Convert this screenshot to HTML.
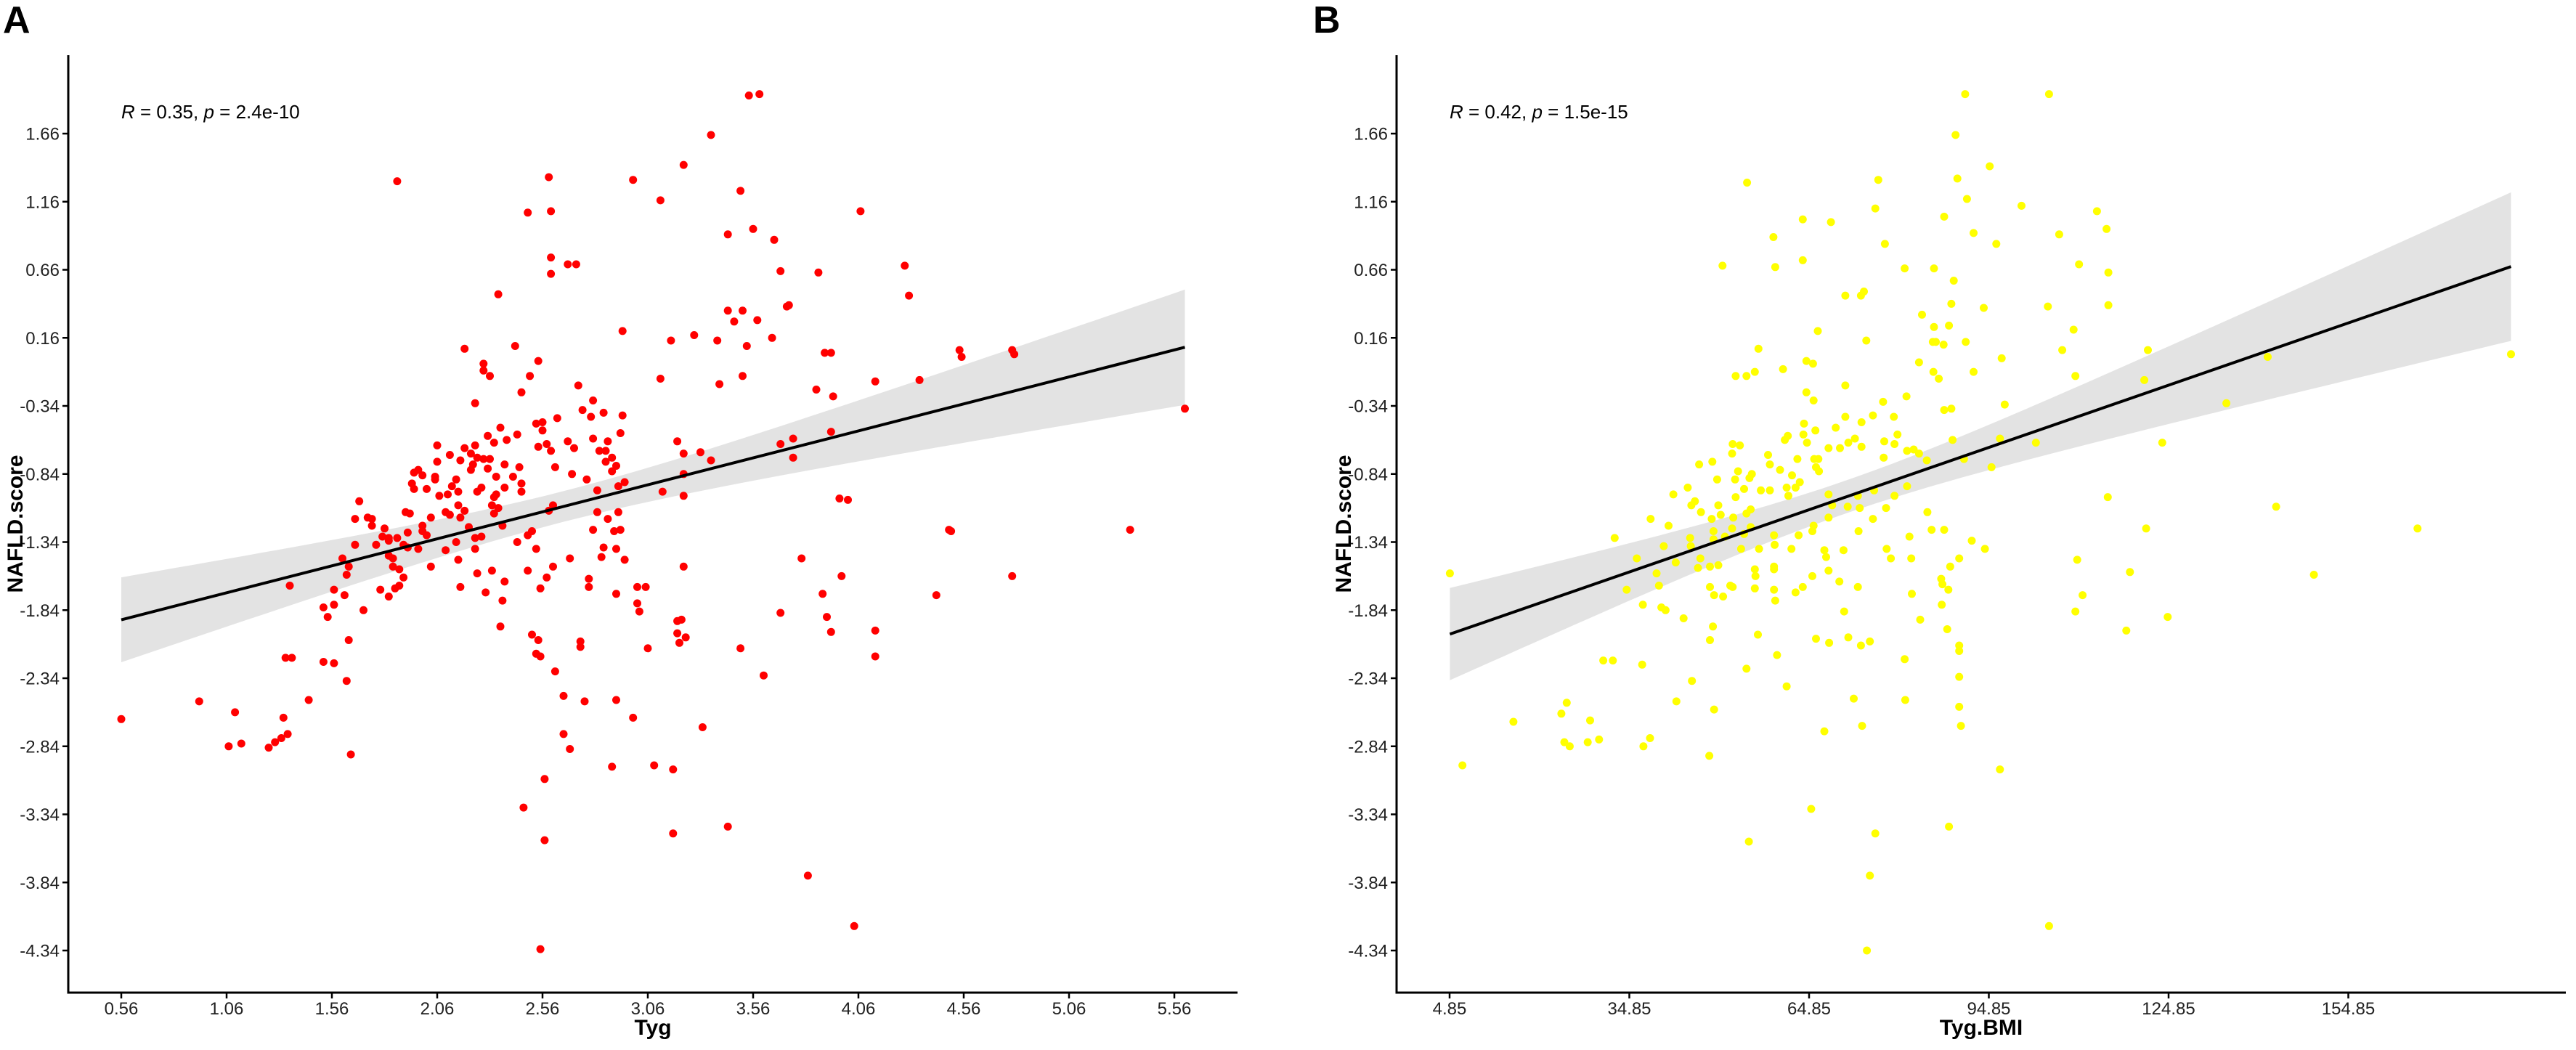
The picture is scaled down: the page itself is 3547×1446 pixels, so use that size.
<!DOCTYPE html>
<html><head><meta charset="utf-8"><style>
html,body{margin:0;padding:0;background:#fff;}
svg{display:block;font-family:"Liberation Sans",Arial,sans-serif;}
</style></head><body>
<svg id="chart" width="3547" height="1446" viewBox="0 0 3547 1446" xmlns="http://www.w3.org/2000/svg">
<rect width="3547" height="1446" fill="#fff"/>
<text x="4" y="45" font-size="52" font-weight="bold">A</text>
<text x="1808" y="45" font-size="52" font-weight="bold">B</text>
<g id="panelA"></g>
<g id="panelB"></g>
</svg>
<script>
// ---- Panel A data (Tyg vs NAFLD.score) ----
const aX = [2.19,2.43,2.28,2.28,2.31,2.54,2.50,2.46,2.24,2.73,2.80,2.75,2.79,2.85,2.94,2.93,3.17,3.12,2.94,2.36,2.30,2.33,2.39,2.44,2.53,2.56,2.56,2.63,2.54,2.58,2.60,2.68,2.71,2.80,2.87,2.83,2.86,2.86,2.89,2.91,2.89,2.62,2.70,2.77,2.82,2.92,2.95,3.20,3.23,3.23,3.13,3.23,2.06,2.06,2.12,2.19,2.24,2.22,2.17,2.25,2.28,2.31,2.23,2.22,2.30,2.38,2.45,2.34,2.42,2.46,2.46,2.38,1.95,1.97,1.99,2.05,2.05,2.15,2.13,2.16,2.01,1.94,1.95,2.11,2.07,2.25,2.27,2.33,2.34,2.32,2.35,2.33,2.16,2.19,2.17,2.10,2.12,2.21,2.37,2.61,2.59,1.69,1.67,1.73,1.75,1.75,1.81,1.80,1.83,1.83,1.87,1.91,1.93,1.92,2.03,1.99,1.99,2.01,1.90,1.92,1.97,1.77,1.67,1.83,1.85,1.85,1.88,1.90,2.03,2.10,2.15,2.16,2.24,2.24,2.27,2.44,2.49,2.51,2.53,2.69,2.80,2.82,2.87,2.92,2.90,2.93,2.85,2.91,2.84,2.95,3.23,1.61,1.64,1.63,1.36,1.57,1.62,1.52,1.57,1.54,1.71,1.79,1.83,1.86,1.88,2.17,2.25,2.32,2.38,2.29,2.37,2.49,2.58,2.61,2.55,2.78,2.78,2.91,3.01,3.05,3.01,3.02,2.36,2.51,2.54,2.74,2.74,1.64,3.22,3.24,3.21,
0.56,0.93,1.07,1.10,1.13,1.26,1.29,1.32,1.35,1.33,1.34,1.37,1.45,1.57,1.63,1.65,1.52,
1.87,2.59,2.60,2.49,2.60,2.60,2.68,2.72,2.35,2.99,3.12,3.23,3.36,3.50,3.54,3.59,3.56,3.44,3.66,3.69,3.87,3.73,4.07,4.28,4.30,3.44,3.51,3.47,3.58,3.72,3.39,3.93,3.90,4.55,4.79,4.14,4.35,5.61,3.86,3.53,3.65,3.40,3.51,3.28,3.69,3.75,3.75,3.31,3.36,3.94,3.93,3.97,4.01,3.79,3.98,3.89,4.49,4.43,5.35,4.79,4.50,4.54,4.80,
3.69,3.91,3.93,4.14,4.14,3.50,3.61,3.20,3.20,3.32,3.44,3.18,3.09,3.18,3.82,4.04,
2.47,2.57,2.55,2.57,2.66,2.69,2.66,2.76,2.91,2.99,3.06,2.89,2.55,2.53,2.62];
const aY = [0.08,0.10,-0.03,-0.08,-0.12,-0.01,-0.12,-0.24,-0.32,-0.19,-0.30,-0.37,-0.42,-0.39,-0.41,-0.54,0.14,-0.14,0.21,-0.50,-0.56,-0.61,-0.59,-0.55,-0.47,-0.46,-0.52,-0.43,-0.64,-0.62,-0.67,-0.60,-0.65,-0.58,-0.60,-0.67,-0.67,-0.75,-0.72,-0.78,-0.82,-0.79,-0.84,-0.88,-0.96,-0.93,-0.90,-0.60,-0.69,-0.84,-0.97,-1.00,-0.63,-0.75,-0.70,-0.65,-0.63,-0.69,-0.74,-0.72,-0.73,-0.73,-0.77,-0.81,-0.80,-0.77,-0.79,-0.86,-0.86,-0.91,-0.97,-0.94,-0.83,-0.81,-0.85,-0.86,-0.88,-0.88,-0.93,-0.97,-0.95,-0.91,-0.95,-0.99,-1.00,-0.97,-0.94,-1.01,-0.99,-1.07,-1.09,-1.13,-1.07,-1.11,-1.16,-1.12,-1.14,-1.23,-1.22,-1.07,-1.11,-1.04,-1.17,-1.16,-1.17,-1.22,-1.24,-1.30,-1.31,-1.33,-1.31,-1.12,-1.13,-1.27,-1.16,-1.22,-1.26,-1.29,-1.36,-1.38,-1.39,-1.36,-1.36,-1.44,-1.46,-1.52,-1.54,-1.60,-1.52,-1.40,-1.34,-1.47,-1.39,-1.31,-1.30,-1.34,-1.29,-1.26,-1.39,-1.46,-1.25,-1.12,-1.17,-1.12,-1.26,-1.25,-1.38,-1.39,-1.45,-1.47,-1.52,-1.46,-1.52,-1.58,-1.66,-1.69,-1.73,-1.82,-1.80,-1.89,-1.84,-1.69,-1.74,-1.68,-1.66,-1.67,-1.57,-1.55,-1.63,-1.71,-1.77,-1.55,-1.60,-1.52,-1.68,-1.61,-1.67,-1.72,-1.67,-1.67,-1.79,-1.85,-1.96,-2.02,-2.06,-2.07,-2.11,-2.06,-1.91,-2.04,-2.08,
-2.64,-2.51,-2.84,-2.59,-2.82,-2.85,-2.81,-2.78,-2.75,-2.63,-2.19,-2.19,-2.50,-2.23,-2.36,-2.90,-2.22,
1.31,1.34,1.09,1.08,0.75,0.63,0.70,0.70,0.48,1.32,1.17,1.43,1.65,1.24,1.94,1.95,0.96,0.92,0.88,0.65,0.64,0.40,1.09,0.69,0.47,0.36,0.36,0.28,0.29,0.39,0.14,0.05,0.05,0.02,0.07,-0.16,-0.15,-0.36,-0.22,0.10,0.16,-0.18,-0.12,0.18,-0.62,-0.72,-0.58,-0.68,-0.74,-0.27,-0.53,-1.02,-1.03,-1.46,-1.59,-1.72,-1.25,-1.73,-1.25,-1.59,-1.26,0.07,0.04,
-1.86,-1.89,-2.00,-1.99,-2.18,-2.12,-2.32,-1.92,-2.01,-2.70,-3.43,-3.48,-2.98,-3.01,-3.79,-4.16,
-3.29,-3.53,-4.33,-3.08,-2.75,-2.86,-2.47,-2.51,-2.50,-2.63,-2.12,-2.99,-2.18,-2.16,-2.29];
const aXTicks = [0.56,1.06,1.56,2.06,2.56,3.06,3.56,4.06,4.56,5.06,5.56];
const yTicks = [1.66,1.16,0.66,0.16,-0.34,-0.84,-1.34,-1.84,-2.34,-2.84,-3.34,-3.84,-4.34];
const aStat = "0.35"; const aP = "2.4e-10";

// ---- Panel B data (Tyg.BMI vs NAFLD.score) ----
const bX = [4.9,32.4,36.1,38.4,41.4,42.2,44.6,46.5,48.7,49.5,45.2,45.8,46.8,49.7,48.6,50.1,52.0,40.6,45.0,45.1,48.9,48.9,50.8,52.2,52.6,52.5,53.0,54.0,54.9,55.1,54.4,54.0,55.1,53.5,52.0,52.1,53.3,52.6,54.4,55.8,56.4,60.5,64.4,65.5,66.3,64.4,65.6,64.0,63.9,64.5,65.9,60.8,61.3,58.0,58.3,60.0,62.0,62.9,63.3,62.6,61.1,61.4,65.7,66.4,66.0,66.5,68.1,69.3,70.9,70.9,70.0,71.4,72.5,73.6,73.6,75.5,73.5,74.4,77.2,79.0,77.4,77.3,79.1,79.6,81.1,81.2,82.3,83.2,84.5,83.2,83.7,85.7,86.0,87.3,85.6,86.5,87.4,88.6,88.8,56.8,58.3,55.3,68.1,68.7,71.3,73.0,73.3,75.7,77.7,79.1,81.2,84.6,85.3,87.4,56.5,59.0,59.1,61.9,63.1,65.4,65.6,68.1,73.1,75.5,77.8,81.6,67.4,67.7,70.6,78.5,81.9,55.8,55.9,59.0,59.0,55.8,59.0,51.7,52.1,48.3,49.0,50.5,46.3,48.3,49.7,46.7,42.6,39.4,39.8,34.4,37.1,40.2,40.9,43.9,48.8,48.3,56.3,59.2,62.6,63.8,65.4,68.1,69.9,73.0,70.7,66.0,68.2,71.4,73.5,75.0,59.5,82.0,83.4,86.9,87.0,88.1,88.4,89.9,89.9,80.8,80.9,72.3,61.1,54.4,45.3,42.7,37.0,30.5,32.1,24.4,23.5,28.3,15.5,
7.0,24.0,24.9,27.9,29.8,37.2,38.3,48.2,65.2,54.8,75.0,75.9,88.2,96.7,74.5,104.9,89.9,90.2,67.4,73.7,49.0,
54.5,68.5,76.4,90.9,89.3,95.0,89.6,91.2,87.4,100.3,104.9,96.1,92.3,112.9,114.5,106.6,109.9,114.8,114.8,85.7,80.8,63.8,59.2,77.5,70.9,74.0,50.4,58.9,63.8,75.9,89.0,
94.0,97.0,88.2,85.5,91.0,92.3,104.7,107.1,109.3,109.0,121.4,120.8,141.4,134.5,123.8,102.7,114.7,142.8,121.1,109.6,110.5,118.4,109.3,124.7,117.8,149.1,166.4,182.0,97.5,96.7,90.7,95.3,88.6,92.0,89.9,87.1,89.9,87.9,94.2];
const bY = [-1.57,-1.31,-1.46,-1.17,-1.22,-0.99,-0.94,-0.77,-0.75,-0.88,-1.07,-1.04,-1.12,-1.07,-1.17,-1.14,-1.24,-1.37,-1.31,-1.37,-1.26,-1.32,-1.30,-1.16,-1.01,-0.88,-0.82,-0.95,-0.87,-1.10,-1.13,-1.28,-1.23,-1.39,-0.69,-0.62,-0.63,-0.12,-0.12,-0.09,0.08,-0.07,-0.01,-0.03,0.21,-0.24,-0.30,-0.47,-0.55,-0.61,-0.52,-0.59,-0.56,-0.70,-0.77,-0.81,-0.85,-0.73,-0.90,-0.94,-0.94,-1.00,-0.73,-0.73,-0.79,-0.82,-0.65,-0.50,-0.42,-0.19,-0.65,-0.61,-0.58,-0.64,-0.46,-0.41,0.47,0.14,-0.31,-0.42,-0.60,-0.72,-0.62,-0.55,-0.27,-0.67,-0.66,-0.69,-0.74,-0.02,0.33,0.24,0.13,0.11,-0.09,-0.14,-0.37,0.41,-0.59,-0.96,-0.96,-0.84,-0.99,-1.07,-1.08,-1.00,-1.09,-0.96,-1.09,-1.00,-0.93,-1.12,-1.25,-1.25,-1.39,-1.29,-1.36,-1.39,-1.29,-1.26,-1.22,-1.16,-1.26,-1.17,-1.39,-1.30,-1.40,-1.45,-1.40,-1.46,-1.46,-1.54,-1.59,-1.52,-1.54,-1.68,-1.69,-1.66,-1.67,-1.67,-1.73,-1.74,-1.53,-1.52,-1.51,-1.46,-1.49,-1.57,-1.66,-1.69,-1.80,-1.82,-1.84,-1.90,-1.96,-2.06,-2.02,-1.77,-1.71,-1.67,-1.59,-1.55,-1.63,-1.67,-1.85,-2.05,-2.08,-2.04,-2.10,-2.07,-2.17,-1.72,-1.91,-1.61,-1.80,-1.69,-1.52,-2.14,-2.33,-2.20,-2.50,-2.49,-2.40,-2.27,-2.36,-2.51,-2.24,-2.21,-2.21,-2.52,-2.60,-2.65,-2.66,
-2.98,-2.81,-2.84,-2.81,-2.79,-2.84,-2.78,-2.91,-3.30,-3.54,-3.79,-3.48,-3.43,-3.01,-4.34,-4.16,-2.55,-2.69,-2.73,-2.69,-2.57,
1.30,1.01,1.32,1.95,1.65,1.42,1.33,1.18,1.05,1.13,1.95,0.85,0.93,1.09,0.96,0.92,0.70,0.64,0.40,0.67,0.67,1.03,0.68,0.85,0.47,0.50,0.69,0.90,0.73,1.11,0.58,
0.38,0.01,0.25,0.13,0.13,-0.09,0.39,0.07,-0.12,0.22,0.07,-0.15,0.02,-0.32,-0.61,-0.61,-1.01,-1.08,-1.24,-1.47,-1.73,-1.56,-1.85,-1.89,-1.99,-1.58,-1.24,0.04,-0.33,-0.58,-0.73,-0.79,-0.36,-1.33,-1.46,-1.65,-2.10,-1.98,-1.39];
const bXTicks = [4.85,34.85,64.85,94.85,124.85,154.85];
const bStat = "0.42"; const bP = "1.5e-15";

const NS = "http://www.w3.org/2000/svg";
const yTop = 76, yBase = 1367;
function yScale(v){ return 184 + (1.66 - v) * 187.5; }
function xScaleA(v){ return 167 + (v - 0.56) * 290; }
function xScaleB(v){ return 1996 + (v - 4.85) * 8.25; }

function mk(parent, tag, attrs){
  const el = document.createElementNS(NS, tag);
  for (const k in attrs) el.setAttribute(k, attrs[k]);
  parent.appendChild(el);
  return el;
}

function drawPanel(g, xs, ys, xScale, axisLeft, axisRight, xTicks, color, xTitle, stat, pval, prefix){
  // regression
  const n = xs.length;
  let mx = 0, my = 0;
  for (let i = 0; i < n; i++){ mx += xs[i]; my += ys[i]; }
  mx /= n; my /= n;
  let sxx = 0, sxy = 0;
  for (let i = 0; i < n; i++){ sxx += (xs[i]-mx)*(xs[i]-mx); sxy += (xs[i]-mx)*(ys[i]-my); }
  const b = sxy / sxx, a = my - b * mx;
  let sse = 0;
  for (let i = 0; i < n; i++){ const r = ys[i] - (a + b*xs[i]); sse += r*r; }
  const s = Math.sqrt(sse / (n - 2));
  const xmin = Math.min(...xs), xmax = Math.max(...xs);
  const steps = 60, up = [], lo = [];
  for (let k = 0; k <= steps; k++){
    const xv = xmin + (xmax - xmin) * k / steps;
    const fit = a + b * xv;
    const se = 1.969 * s * Math.sqrt(1/n + (xv-mx)*(xv-mx)/sxx);
    up.push(xScale(xv).toFixed(1) + "," + yScale(fit + se).toFixed(1));
    lo.push(xScale(xv).toFixed(1) + "," + yScale(fit - se).toFixed(1));
  }
  const band = mk(g, "polygon", {points: up.concat(lo.reverse()).join(" "), fill: "#e3e3e3"});
  
  

  const pts = mk(g, "g", {});
  
  
  for (let i = 0; i < n; i++){
    const c = mk(pts, "circle", {cx: xScale(xs[i]).toFixed(1), cy: yScale(ys[i]).toFixed(1), r: 5.5, fill: color});
    
    
  }

  const line = mk(g, "line", {x1: xScale(xmin), y1: yScale(a + b*xmin), x2: xScale(xmax), y2: yScale(a + b*xmax), stroke: "#000", "stroke-width": 4});
  
  

  // axes
  const yAx = mk(g, "line", {x1: axisLeft, y1: yTop, x2: axisLeft, y2: yBase + 1.5, stroke: "#000", "stroke-width": 3});
  
  
  const xAx = mk(g, "line", {x1: axisLeft - 1.5, y1: yBase, x2: axisRight, y2: yBase, stroke: "#000", "stroke-width": 3});
  
  

  for (const t of yTicks){
    const yy = yScale(t);
    const tk = mk(g, "line", {x1: axisLeft - 8, y1: yy, x2: axisLeft, y2: yy, stroke: "#000", "stroke-width": 2.5});
    
    
    const lb = mk(g, "text", {x: axisLeft - 12, y: yy + 8.5, "font-size": 24, "text-anchor": "end", fill: "#222"});
    lb.textContent = t.toFixed(2);
    
    
  }
  for (const t of xTicks){
    const xx = xScale(t);
    const tk = mk(g, "line", {x1: xx, y1: yBase, x2: xx, y2: yBase + 8, stroke: "#000", "stroke-width": 2.5});
    
    
    const lb = mk(g, "text", {x: xx, y: yBase + 30, "font-size": 24, "text-anchor": "middle", fill: "#222"});
    lb.textContent = t.toFixed(2);
    
    
  }
  const xt = mk(g, "text", {x: (axisLeft + axisRight)/2, y: 1425, "font-size": 30, "font-weight": "bold", "text-anchor": "middle"});
  xt.textContent = xTitle;
  
  
  const cy = (yTop + yBase)/2, cx = axisLeft - 73;
  const yt = mk(g, "text", {x: cx, y: cy, "font-size": 30, "font-weight": "bold", "text-anchor": "middle", transform: "rotate(-90 " + cx + " " + cy + ") translate(0 10)"});
  yt.textContent = "NAFLD.score";
  
  

  const st = mk(g, "text", {x: axisLeft + 73, y: 163, "font-size": 26});
  
  
  const t1 = mk(st, "tspan", {"font-style": "italic"}); t1.textContent = "R";
  const t2 = mk(st, "tspan", {}); t2.textContent = " = " + stat + ", ";
  const t3 = mk(st, "tspan", {"font-style": "italic"}); t3.textContent = "p";
  const t4 = mk(st, "tspan", {}); t4.textContent = " = " + pval;
}

drawPanel(document.getElementById("panelA"), aX, aY, xScaleA, 94, 1704, aXTicks, "#ff0000", "Tyg", aStat, aP, "panel-a");
drawPanel(document.getElementById("panelB"), bX, bY, xScaleB, 1923, 3533, bXTicks, "#ffff00", "Tyg.BMI", bStat, bP, "panel-b");
</script>
</body></html>
